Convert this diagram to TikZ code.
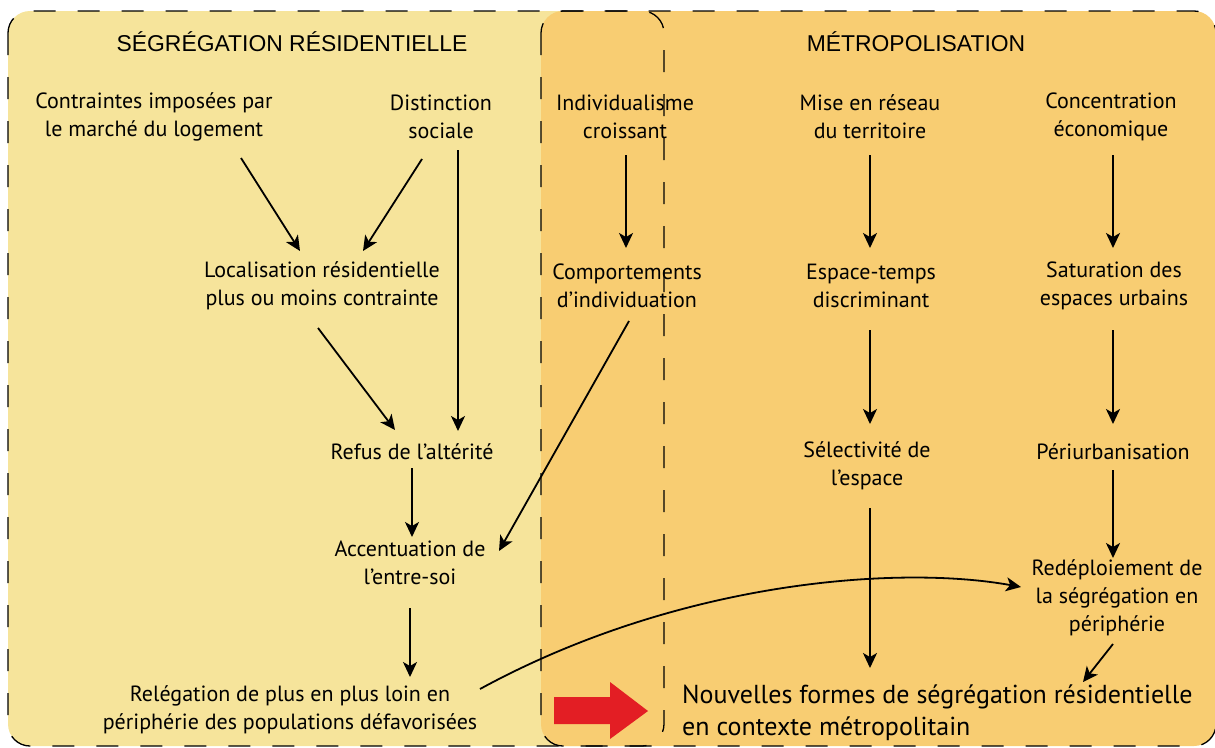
\documentclass[tikz,border=0pt]{standalone}
\usepackage{fontspec}
\setmainfont{PT Sans}
\newfontfamily\headfont{Liberation Sans}
\usetikzlibrary{arrows.meta,calc}
\definecolor{lightyel}{HTML}{F6E49B}
\definecolor{orng}{HTML}{F8CD72}
\definecolor{redarr}{HTML}{E31E24}
\begin{document}
\begin{tikzpicture}[x=1pt,y=-1pt,
 lbl/.style={align=center,font=\fontsize{22}{28}\selectfont,inner sep=0pt},
 big/.style={align=left,font=\fontsize{26}{32}\selectfont,inner sep=0pt},
 head/.style={font=\headfont\fontsize{22.9}{26}\selectfont,inner sep=0pt},
 arr/.style={line width=1.8pt,-{Stealth[length=15pt,width=14pt,inset=4pt]}},
 zone/.style={rounded corners=22pt},
 border/.style={zone,draw=black,line width=1.3pt,dash pattern=on 22pt off 22pt}]
\useasboundingbox (0,0) rectangle (1215,747);
% zones
\fill[lightyel,zone] (8,11) rectangle (664,746);
\fill[orng,zone] (541,11) rectangle (1216,746);
\draw[border] (8,11) rectangle (664,746);
\draw[border] (541,11) rectangle (1216,746);
% headings
\node[head] (t1) at (292,42) {SÉGRÉGATION RÉSIDENTIELLE};
\node[head] (t2) at (916,42) {MÉTROPOLISATION};
% nodes
\node[lbl] (n1) at (154,117) {Contraintes imposées par\\le marché du logement};
\node[lbl] (n2) at (441,117) {Distinction\\sociale};
\node[lbl] (n3) at (625,117) {Individualisme\\croissant};
\node[lbl] (n4) at (870,117) {Mise en réseau\\du territoire};
\node[lbl] (n5) at (1111,117) {Concentration\\économique};
\node[lbl] (n6) at (322,286) {Localisation résidentielle\\plus ou moins contrainte};
\node[lbl] (n7) at (627,286) {Comportements\\d’individuation};
\node[lbl] (n8) at (871,286) {Espace-temps\\discriminant};
\node[lbl] (n9) at (1114,286) {Saturation des\\espaces urbains};
\node[lbl] (n10) at (412,452) {Refus de l’altérité};
\node[lbl] (n11) at (867,466) {Sélectivité de\\l’espace};
\node[lbl] (n12) at (1113,452) {Périurbanisation};
\node[lbl] (n13) at (410,563) {Accentuation de\\l’entre-soi};
\node[lbl] (n14) at (1117,598) {Redéploiement de\\la ségrégation en\\périphérie};
\node[lbl] (n15) at (290,710) {Relégation de plus en plus loin en\\périphérie des populations défavorisées};
\node[big,anchor=west] (n16) at (682,713) {Nouvelles formes de ségrégation résidentielle\\en contexte métropolitain};
% red arrow
\fill[redarr] (554,697) -- (610,697) -- (610,682) -- (648,711) -- (610,739) -- (610,724) -- (554,724) -- cycle;
% connectors
\draw[arr] ($(n1)+(87,41)$) -- ($(n6)+(-22,-35)$);
\draw[arr] ($(n2)+(-19,42)$) -- ($(n6)+(41,-35)$);
\draw[arr] ($(n2)+(17,33)$) -- ($(n10)+(46,-21)$);
\draw[arr] ($(n6)+(-4,42)$) -- ($(n10)+(-17,-22)$);
\draw[arr] ($(n7)+(2,35)$) -- ($(n13)+(89,-12)$);
\draw[arr] ($(n10)+(0,16)$) -- ($(n13)+(2,-26)$);
\draw[arr] ($(n3)+(1,38)$) -- ($(n7)+(-1,-38)$);
\draw[arr] ($(n4)+(0,38)$) -- ($(n8)+(-1,-38)$);
\draw[arr] ($(n5)+(2,38)$) -- ($(n9)+(-1,-38)$);
\draw[arr] ($(n8)+(-1,44)$) -- ($(n11)+(3,-42)$);
\draw[arr] ($(n9)+(-1,44)$) -- ($(n12)+(0,-28)$);
\draw[arr] ($(n11)+(3,42)$) -- ($(n16.west)+(188,-45)$);
\draw[arr] ($(n12)+(0,18)$) -- ($(n14)+(-4,-40)$);
\draw[arr] ($(n13)+(0,45)$) -- ($(n15)+(120,-33)$);
\draw[arr] ($(n14)+(-4,46)$) -- ($(n16.west)+(401,-31)$);
\draw[arr] ($(n15)+(190,-21)$) .. controls (680,580) and (900,565) .. ($(n14)+(-96,-11)$);
\end{tikzpicture}
\end{document}
